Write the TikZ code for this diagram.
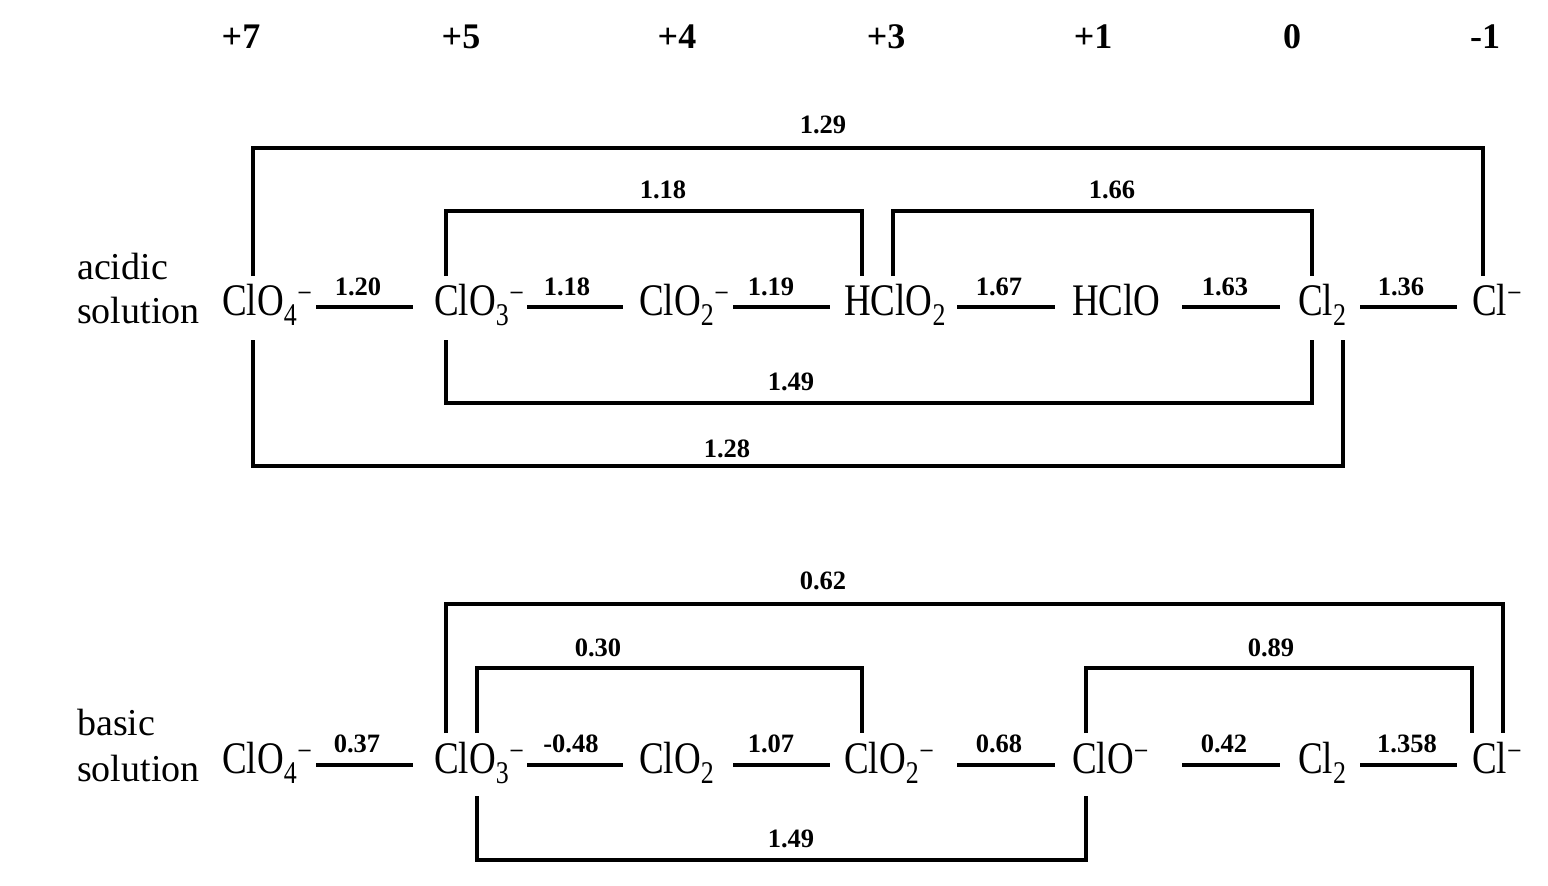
\documentclass[tikz,border=0pt]{standalone}
\usepackage{fontspec}
\usepackage{graphicx}
\setmainfont{Liberation Serif}
\newcommand{\spfont}{\fontsize{37}{40}\selectfont}
\newcommand{\lbfont}{\fontsize{26.5}{28}\selectfont\bfseries}
\newcommand{\hdfont}{\fontsize{36}{38}\selectfont\bfseries}
\newcommand{\sidefont}{\fontsize{38}{40}\selectfont}
\newcommand{\mn}{\textsuperscript{−}}
\newcommand{\tall}[1]{\scalebox{1}[1.22]{#1}}
\tikzset{
  sp/.style={anchor=base west, inner sep=0pt, font=\spfont},
  side/.style={anchor=base west, inner sep=0pt, font=\sidefont},
  lab/.style={anchor=base, inner sep=0pt, font=\lbfont},
  hdr/.style={anchor=base, inner sep=0pt, font=\hdfont},
  link/.style={line width=3.1pt},
  brk/.style={line width=3.2pt, line join=miter}
}
\begin{document}
\begin{tikzpicture}[x=1pt,y=-1pt]
\useasboundingbox (0,0) rectangle (1548,886);
% header
\node[hdr] (h7) at (241,48) {+7};
\node[hdr] (h5) at (461,48) {+5};
\node[hdr] (h4) at (677,48) {+4};
\node[hdr] (h3) at (886,48) {+3};
\node[hdr] (h1) at (1093,48) {+1};
\node[hdr] (h0) at (1292,48) {0};
\node[hdr] (hm) at (1485,48) {-1};
% side labels
\node[side] (acid) at (77,279) {acidic};
\node[side] (solA) at (77,323) {solution};
\node[side] (basic) at (77,735) {basic};
\node[side] (solB) at (77,781) {solution};
% acidic species
\node[sp] (a1) at (222,315) {\tall{ClO\textsubscript{4}\mn}};
\node[sp] (a2) at (434,315) {\tall{ClO\textsubscript{3}\mn}};
\node[sp] (a3) at (639,315) {\tall{ClO\textsubscript{2}\mn}};
\node[sp] (a4) at (844,315) {\tall{HClO\textsubscript{2}}};
\node[sp] (a5) at (1072,315) {\tall{HClO}};
\node[sp] (a6) at (1298,315) {\tall{Cl\textsubscript{2}}};
\node[sp] (a7) at (1472,315) {\tall{Cl\mn}};
% basic species
\node[sp] (b1) at (222,773) {\tall{ClO\textsubscript{4}\mn}};
\node[sp] (b2) at (434,773) {\tall{ClO\textsubscript{3}\mn}};
\node[sp] (b3) at (639,773) {\tall{ClO\textsubscript{2}}};
\node[sp] (b4) at (844,773) {\tall{ClO\textsubscript{2}\mn}};
\node[sp] (b5) at (1072,773) {\tall{ClO\mn}};
\node[sp] (b6) at (1298,773) {\tall{Cl\textsubscript{2}}};
\node[sp] (b7) at (1472,773) {\tall{Cl\mn}};
% acidic step connectors
\coordinate (ca1) at (316,307); \coordinate (ca2) at (413,307);
\coordinate (ca3) at (527,307); \coordinate (ca4) at (623,307);
\coordinate (ca5) at (733,307); \coordinate (ca6) at (830,307);
\coordinate (ca7) at (957,307); \coordinate (ca8) at (1055,307);
\coordinate (ca9) at (1182,307); \coordinate (ca10) at (1280,307);
\coordinate (ca11) at (1360,307); \coordinate (ca12) at (1457,307);
\draw[link] (ca1) -- (ca2); \node[lab] (la1) at (358,295) {1.20};
\draw[link] (ca3) -- (ca4); \node[lab] (la2) at (567,295) {1.18};
\draw[link] (ca5) -- (ca6); \node[lab] (la3) at (771,295) {1.19};
\draw[link] (ca7) -- (ca8); \node[lab] (la4) at (999,295) {1.67};
\draw[link] (ca9) -- (ca10); \node[lab] (la5) at (1225,295) {1.63};
\draw[link] (ca11) -- (ca12); \node[lab] (la6) at (1401,295) {1.36};
% basic step connectors
\coordinate (cb1) at (316,765); \coordinate (cb2) at (413,765);
\coordinate (cb3) at (527,765); \coordinate (cb4) at (623,765);
\coordinate (cb5) at (733,765); \coordinate (cb6) at (830,765);
\coordinate (cb7) at (957,765); \coordinate (cb8) at (1055,765);
\coordinate (cb9) at (1182,765); \coordinate (cb10) at (1280,765);
\coordinate (cb11) at (1360,765); \coordinate (cb12) at (1457,765);
\draw[link] (cb1) -- (cb2); \node[lab] (lb1) at (357,752) {0.37};
\draw[link] (cb3) -- (cb4); \node[lab] (lb2) at (571,752) {-0.48};
\draw[link] (cb5) -- (cb6); \node[lab] (lb3) at (771,752) {1.07};
\draw[link] (cb7) -- (cb8); \node[lab] (lb4) at (999,752) {0.68};
\draw[link] (cb9) -- (cb10); \node[lab] (lb5) at (1224,752) {0.42};
\draw[link] (cb11) -- (cb12); \node[lab] (lb6) at (1407,752) {1.358};
% acidic brackets
\coordinate (A1s) at (253,276); \coordinate (A1e) at (1483,276);
\draw[brk] (A1s) -- (253,148) -| (A1e); \node[lab] (lA1) at (823,133) {1.29};
\coordinate (A2s) at (446,276); \coordinate (A2e) at (862,276);
\draw[brk] (A2s) -- (446,211) -| (A2e); \node[lab] (lA2) at (663,198) {1.18};
\coordinate (A3s) at (893,276); \coordinate (A3e) at (1312,276);
\draw[brk] (A3s) -- (893,211) -| (A3e); \node[lab] (lA3) at (1112,198) {1.66};
\coordinate (A4s) at (446,340); \coordinate (A4e) at (1312,340);
\draw[brk] (A4s) -- (446,403) -| (A4e); \node[lab] (lA4) at (791,390) {1.49};
\coordinate (A5s) at (253,340); \coordinate (A5e) at (1343,340);
\draw[brk] (A5s) -- (253,466) -| (A5e); \node[lab] (lA5) at (727,457) {1.28};
% basic brackets
\coordinate (B1s) at (446,733); \coordinate (B1e) at (1503,733);
\draw[brk] (B1s) -- (446,604) -| (B1e); \node[lab] (lB1) at (823,589) {0.62};
\coordinate (B2s) at (477,733); \coordinate (B2e) at (862,733);
\draw[brk] (B2s) -- (477,668) -| (B2e); \node[lab] (lB2) at (598,656) {0.30};
\coordinate (B3s) at (1086,733); \coordinate (B3e) at (1472,733);
\draw[brk] (B3s) -- (1086,668) -| (B3e); \node[lab] (lB3) at (1271,656) {0.89};
\coordinate (B4s) at (477,796); \coordinate (B4e) at (1086,796);
\draw[brk] (B4s) -- (477,860) -| (B4e); \node[lab] (lB4) at (791,847) {1.49};
\end{tikzpicture}
\end{document}
